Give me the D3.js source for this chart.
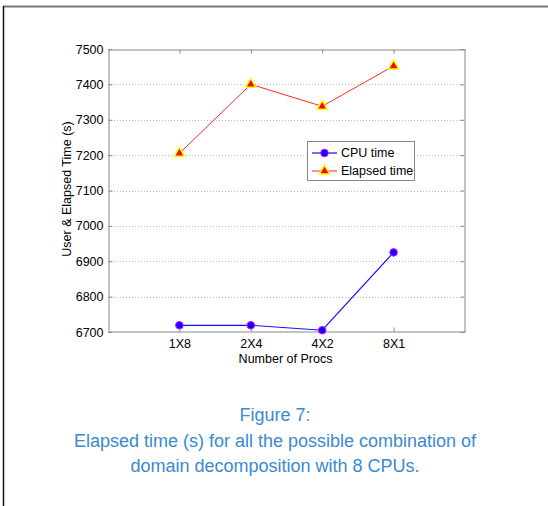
<!DOCTYPE html>
<html>
<head>
<meta charset="utf-8">
<script src="https://cdn.jsdelivr.net/npm/d3@7"></script>
<style>
  body { margin: 0; background: #fff; }
  svg { display: block; font-family: "Liberation Sans", Arial, sans-serif; }
</style>
</head>
<body>
<svg id="chart" width="548" height="506"></svg>
<script>
// data
let procs = ["1X8", "2X4", "4X2", "8X1"];
let cpuTime = [6719, 6719, 6705, 6925];
let elapsedTime = [7205, 7400, 7338, 7452];
let yTicks = [6700, 6800, 6900, 7000, 7100, 7200, 7300, 7400, 7500];
let captionLines = ["Figure 7:", "Elapsed time (s) for all the possible combination of", "domain decomposition with 8 CPUs."];

let svg = d3.select("#chart");

// page frame
svg.append("line").attr("x1", 3).attr("x2", 548).attr("y1", 6.5).attr("y2", 6.5)
    .attr("stroke", "#777").attr("stroke-width", 2);
svg.append("line").attr("x1", 3.5).attr("x2", 3.5).attr("y1", 6).attr("y2", 506)
    .attr("stroke", "#111").attr("stroke-width", 1.5);

let plotLeft = 108, plotRight = 465, plotTop = 49, plotBottom = 332;

let x = d3.scaleLinear().domain([0, 5]).range([plotLeft, plotRight]);
let y = d3.scaleLinear().domain([6700, 7500]).range([plotBottom, plotTop]);

let g = svg.append("g");

// dotted grid
g.selectAll(".grid")
    .data(yTicks.filter(d => d > 6700 && d < 7500))
    .enter().append("line")
    .attr("class", "grid")
    .attr("x1", plotLeft).attr("x2", plotRight)
    .attr("y1", d => Math.round(y(d)) + 0.5).attr("y2", d => Math.round(y(d)) + 0.5)
    .attr("stroke", "#bbb").attr("stroke-dasharray", "1,2");

// axes (matlab box style, ticks inside)
let axColor = "#888";
let yAxisL = g.append("g").attr("transform", "translate(" + (plotLeft + 0.5) + ",0)")
    .call(d3.axisLeft(y).tickValues(yTicks).tickSizeInner(-4).tickSizeOuter(0).tickPadding(5).tickFormat(d3.format("d")));
let yAxisR = g.append("g").attr("transform", "translate(" + (plotRight - 0.5) + ",0)")
    .call(d3.axisRight(y).tickValues(yTicks).tickSizeInner(-4).tickSizeOuter(0).tickFormat(""));
let xAxisB = g.append("g").attr("transform", "translate(0," + (plotBottom - 0.5) + ")")
    .call(d3.axisBottom(x).tickValues([1, 2, 3, 4]).tickSizeInner(-4).tickSizeOuter(0).tickPadding(8)
        .tickFormat(d => procs[d - 1]));
let xAxisT = g.append("g").attr("transform", "translate(0," + (plotTop + 0.5) + ")")
    .call(d3.axisTop(x).tickValues([1, 2, 3, 4]).tickSizeInner(-4).tickSizeOuter(0).tickFormat(""));

[yAxisL, yAxisR, xAxisB, xAxisT].forEach(a => {
    a.selectAll("path, line").attr("stroke", axColor);
    a.selectAll("text").attr("fill", "#000").attr("font-size", 12.5)
        .attr("font-family", "'Liberation Sans', Arial, sans-serif");
});

// axis titles
g.append("text").attr("x", (plotLeft + plotRight) / 2 - 1).attr("y", 363)
    .attr("text-anchor", "middle").attr("font-size", 12.5).text("Number of Procs");
g.append("text").attr("transform", "translate(71,189) rotate(-90)")
    .attr("text-anchor", "middle").attr("font-size", 12.5).text("User & Elapsed Time (s)");

// series
let line = d3.line().x((d, i) => x(i + 1)).y(d => y(d));

g.append("path").datum(elapsedTime).attr("d", line)
    .attr("fill", "none").attr("stroke", "#ff2a2a").attr("stroke-width", 1);
g.append("path").datum(cpuTime).attr("d", line)
    .attr("fill", "none").attr("stroke", "#1010ff").attr("stroke-width", 1.2);

let tri = d3.symbol().type(d3.symbolTriangle).size(45);

g.selectAll(".tri").data(elapsedTime).enter().append("path")
    .attr("class", "tri")
    .attr("d", tri)
    .attr("transform", (d, i) => "translate(" + x(i + 1) + "," + y(d) + ")")
    .attr("fill", "#ff0000").attr("stroke", "#ffff00").attr("stroke-width", 1.5);

g.selectAll(".dot").data(cpuTime).enter().append("circle")
    .attr("class", "dot")
    .attr("cx", (d, i) => x(i + 1)).attr("cy", d => y(d))
    .attr("r", 3.8)
    .attr("fill", "#0000ff").attr("stroke", "#ff00ff").attr("stroke-width", 1);

// legend
let lg = g.append("g").attr("transform", "translate(307,141)");
lg.append("rect").attr("x", 0.5).attr("y", 0.5).attr("width", 107).attr("height", 39)
    .attr("fill", "#fff").attr("stroke", "#888");
lg.append("line").attr("x1", 5).attr("x2", 30).attr("y1", 12).attr("y2", 12)
    .attr("stroke", "#1010ff").attr("stroke-width", 1.2);
lg.append("circle").attr("cx", 17.5).attr("cy", 12).attr("r", 3.8)
    .attr("fill", "#0000ff").attr("stroke", "#ff00ff");
lg.append("line").attr("x1", 5).attr("x2", 30).attr("y1", 30).attr("y2", 30)
    .attr("stroke", "#ff2a2a").attr("stroke-width", 1);
lg.append("path").attr("d", tri).attr("transform", "translate(17.5,30)")
    .attr("fill", "#ff0000").attr("stroke", "#ffff00").attr("stroke-width", 1.5);
lg.append("text").attr("x", 34).attr("y", 16).attr("font-size", 12.5).text("CPU time");
lg.append("text").attr("x", 34).attr("y", 34).attr("font-size", 12.5).text("Elapsed time");

// caption
svg.selectAll(".cap").data(captionLines).enter().append("text")
    .attr("class", "cap")
    .attr("x", 275).attr("y", (d, i) => 421 + i * 25.5)
    .attr("text-anchor", "middle")
    .attr("font-size", 18)
    .attr("fill", "#3a8ad0")
    .text(d => d);
</script>
</body>
</html>
